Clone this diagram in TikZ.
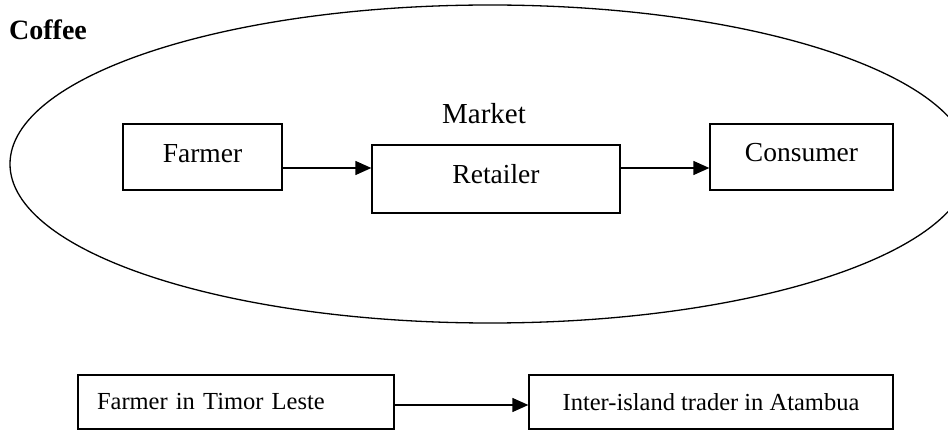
\documentclass[tikz,border=0pt]{standalone}
\usepackage{fontspec}
\setmainfont{Liberation Serif}
\usetikzlibrary{arrows.meta}

\tikzset{
  box/.style={draw, line width=1.3pt, inner sep=0pt, align=center},
  toptext/.style={font=\fontsize{27.5}{31}\selectfont},
  lowtext/.style={font=\fontsize{24.5}{28}\selectfont},
  flow/.style={line width=1.3pt, -{Triangle[length=16pt,width=14pt]}},
}

\begin{document}
\begin{tikzpicture}[x=1pt, y=-1pt]
  \useasboundingbox (0,0) rectangle (948,430);
  \clip (0,0) rectangle (948,430);

  % market boundary
  \draw[line width=1.3pt] (490,164) ellipse [x radius=480, y radius=159];

  \node[font=\bfseries\fontsize{28}{32}\selectfont] (coffee) at (48,30) {Coffee};
  \node[font=\fontsize{29}{33}\selectfont] (market) at (484,114) {Market};

  % chain inside the market
  \node[box, toptext, minimum width=159pt, minimum height=66pt, text depth=7pt]
    (farmer) at (202.5,157) {Farmer};
  \node[box, toptext, minimum width=248pt, minimum height=68pt, text depth=10pt]
    (retailer) at (496,179) {Retailer};
  \node[box, toptext, minimum width=183pt, minimum height=66pt, text depth=9pt]
    (consumer) at (801.5,157) {Consumer};

  \draw[flow] ([yshift=-11pt]farmer.east) -- ([yshift=11pt]retailer.west);
  \draw[flow] ([yshift=11pt]retailer.east) -- ([yshift=-11pt]consumer.west);

  % cross-border route
  \node[box, lowtext, minimum width=316pt, minimum height=54pt,
        text width=278pt, inner xsep=19pt, align=left]
    (timor) at (236,402) {Farmer in Timor Leste};
  \node[box, lowtext, minimum width=364pt, minimum height=54pt]
    (atambua) at (711,402) {Inter-island trader in Atambua};

  \draw[flow] ([yshift=-3pt]timor.east) -- ([yshift=-3pt]atambua.west);
\end{tikzpicture}
\end{document}
